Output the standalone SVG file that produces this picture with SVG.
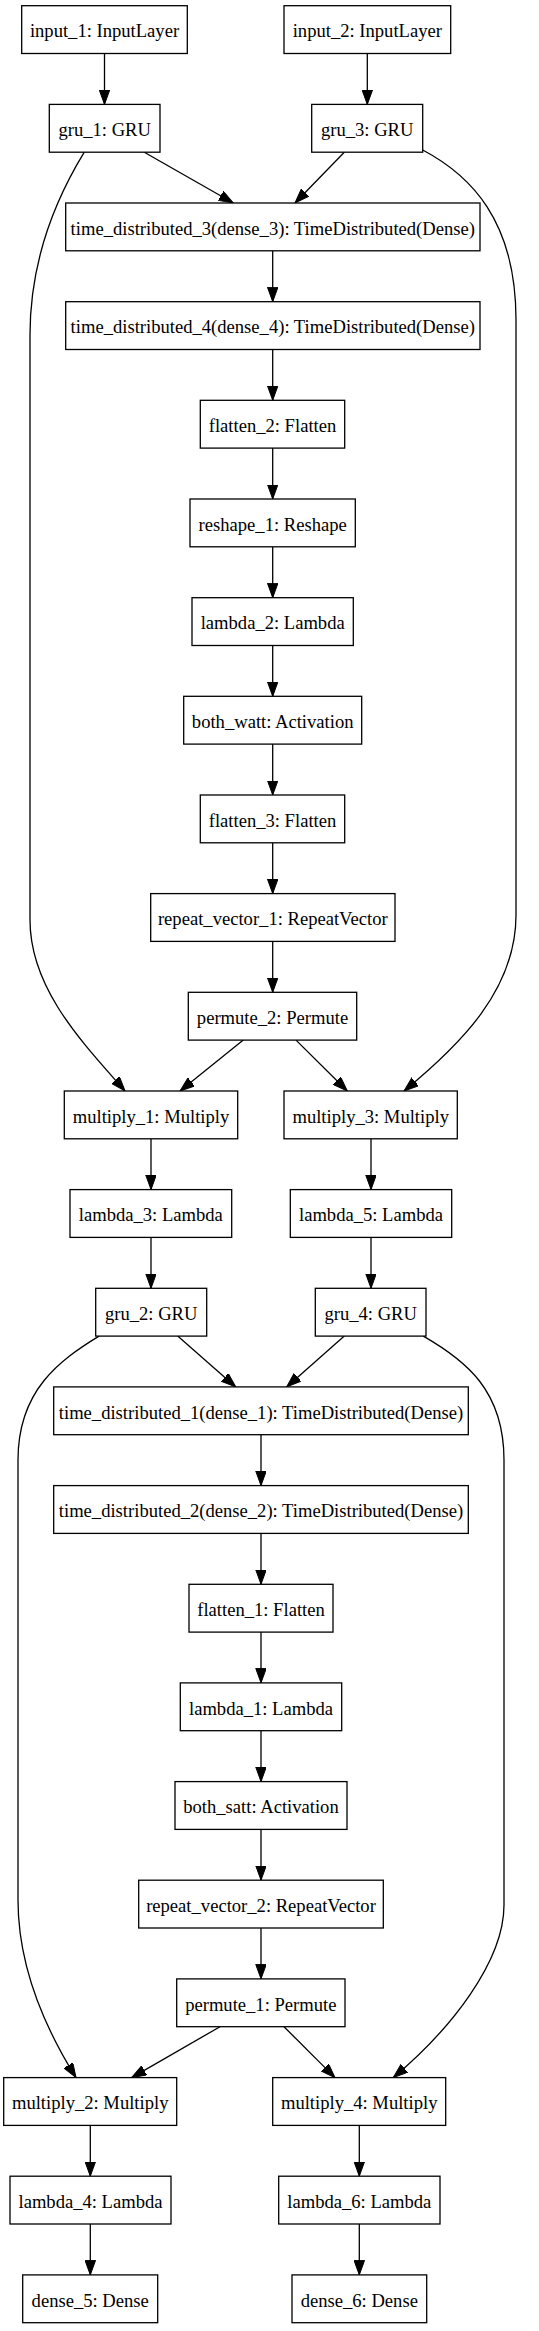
<svg xmlns="http://www.w3.org/2000/svg" width="539" height="2331" viewBox="0 0 539 2331">
<defs>
<style>
.n rect{fill:#fff;stroke:#000;stroke-width:1.3}
.n text{font-family:"Liberation Serif","Times New Roman",serif;font-size:18.6px;text-anchor:middle;fill:#000}
.e path{fill:none;stroke:#000;stroke-width:1.3;marker-end:url(#ah)}
</style>
<marker id="ah" markerUnits="userSpaceOnUse" markerWidth="15" markerHeight="11" refX="14.5" refY="5.25" orient="auto">
<path d="M0,0 L14.5,5.25 L0,10.5 Z" fill="#000" stroke="#000" stroke-width="1"/>
</marker>
</defs>
<rect width="539" height="2331" fill="#fff"/>
<g id="edges" class="e">
<path d="M104.5,53.5 V104.4"/>
<path d="M367.3,53.5 V104.4"/>
<path d="M144.3,152.2 L233.3,203"/>
<path d="M344.3,152.2 L295,203"/>
<path d="M84.3,152.2 C52,205 30,265 30,335 L30,920 C30,990 85,1045 125,1091"/>
<path d="M422.7,150 C470,175 516,220 516,320 L516,915 C516,990 460,1045 404,1091"/>
<path d="M272.7,250.8 V301.7"/>
<path d="M272.7,349.5 V400.3"/>
<path d="M272.7,448.1 V499"/>
<path d="M272.7,546.8 V597.7"/>
<path d="M272.7,645.5 V696.3"/>
<path d="M272.7,744.1 V795"/>
<path d="M272.7,842.8 V893.6"/>
<path d="M272.7,941.4 V992.3"/>
<path d="M243.3,1040.1 L180,1091"/>
<path d="M296,1040.1 L347.3,1091"/>
<path d="M151,1138.8 V1189.6"/>
<path d="M371,1138.8 V1189.6"/>
<path d="M151,1237.4 V1288.3"/>
<path d="M371,1237.4 V1288.3"/>
<path d="M177.7,1336.1 L235.7,1386.9"/>
<path d="M344.3,1336.1 L286.7,1386.9"/>
<path d="M99,1336.1 C60,1360 18,1390 18,1460 L18,1900 C18,1960 40,2020 76,2077.6"/>
<path d="M423.3,1336.1 C465,1360 504,1390 504,1460 L504,1905 C504,1962 450,2030 393.3,2077.6"/>
<path d="M261,1434.7 V1485.6"/>
<path d="M261,1533.4 V1584.3"/>
<path d="M261,1632.1 V1682.9"/>
<path d="M261,1730.7 V1781.6"/>
<path d="M261,1829.4 V1880.2"/>
<path d="M261,1928 V1978.9"/>
<path d="M220,2026.7 L131.7,2077.6"/>
<path d="M284,2026.7 L335,2077.6"/>
<path d="M90.3,2125.4 V2176.2"/>
<path d="M359.3,2125.4 V2176.2"/>
<path d="M90.3,2224 V2274.9"/>
<path d="M359.3,2224 V2274.9"/>
</g>
<g id="input_1" class="n"><rect x="21.7" y="5.7" width="165.6" height="47.8"/><text x="104.5" y="37.4">input_1: InputLayer</text></g>
<g id="input_2" class="n"><rect x="284" y="5.7" width="166.7" height="47.8"/><text x="367.3" y="37.4">input_2: InputLayer</text></g>
<g id="gru_1" class="n"><rect x="49.3" y="104.4" width="110.7" height="47.8"/><text x="104.7" y="136.1">gru_1: GRU</text></g>
<g id="gru_3" class="n"><rect x="311.7" y="104.4" width="111" height="47.8"/><text x="367.2" y="136.1">gru_3: GRU</text></g>
<g id="time_distributed_3" class="n"><rect x="65.7" y="203" width="414.3" height="47.8"/><text x="272.8" y="234.7">time_distributed_3(dense_3): TimeDistributed(Dense)</text></g>
<g id="time_distributed_4" class="n"><rect x="65.7" y="301.7" width="414.3" height="47.8"/><text x="272.8" y="333.4">time_distributed_4(dense_4): TimeDistributed(Dense)</text></g>
<g id="flatten_2" class="n"><rect x="200.3" y="400.3" width="144.4" height="47.8"/><text x="272.5" y="432">flatten_2: Flatten</text></g>
<g id="reshape_1" class="n"><rect x="190" y="499" width="165.3" height="47.8"/><text x="272.7" y="530.7">reshape_1: Reshape</text></g>
<g id="lambda_2" class="n"><rect x="192" y="597.7" width="161.3" height="47.8"/><text x="272.7" y="629.4">lambda_2: Lambda</text></g>
<g id="both_watt" class="n"><rect x="183.7" y="696.3" width="178" height="47.8"/><text x="272.7" y="728">both_watt: Activation</text></g>
<g id="flatten_3" class="n"><rect x="200.3" y="795" width="144.4" height="47.8"/><text x="272.5" y="826.7">flatten_3: Flatten</text></g>
<g id="repeat_vector_1" class="n"><rect x="150.7" y="893.6" width="244.3" height="47.8"/><text x="272.8" y="925.3">repeat_vector_1: RepeatVector</text></g>
<g id="permute_2" class="n"><rect x="188.3" y="992.3" width="168.4" height="47.8"/><text x="272.5" y="1024">permute_2: Permute</text></g>
<g id="multiply_1" class="n"><rect x="64.3" y="1091" width="173.4" height="47.8"/><text x="151" y="1122.7">multiply_1: Multiply</text></g>
<g id="multiply_3" class="n"><rect x="284" y="1091" width="173.3" height="47.8"/><text x="370.7" y="1122.7">multiply_3: Multiply</text></g>
<g id="lambda_3" class="n"><rect x="70" y="1189.6" width="161.7" height="47.8"/><text x="150.8" y="1221.3">lambda_3: Lambda</text></g>
<g id="lambda_5" class="n"><rect x="290.3" y="1189.6" width="161.4" height="47.8"/><text x="371" y="1221.3">lambda_5: Lambda</text></g>
<g id="gru_2" class="n"><rect x="95.7" y="1288.3" width="111" height="47.8"/><text x="151.2" y="1320">gru_2: GRU</text></g>
<g id="gru_4" class="n"><rect x="315.3" y="1288.3" width="110.7" height="47.8"/><text x="370.7" y="1320">gru_4: GRU</text></g>
<g id="time_distributed_1" class="n"><rect x="53.7" y="1386.9" width="414.6" height="47.8"/><text x="261" y="1418.6">time_distributed_1(dense_1): TimeDistributed(Dense)</text></g>
<g id="time_distributed_2" class="n"><rect x="53.7" y="1485.6" width="414.6" height="47.8"/><text x="261" y="1517.3">time_distributed_2(dense_2): TimeDistributed(Dense)</text></g>
<g id="flatten_1" class="n"><rect x="189" y="1584.3" width="144" height="47.8"/><text x="261" y="1616">flatten_1: Flatten</text></g>
<g id="lambda_1" class="n"><rect x="180.3" y="1682.9" width="161.4" height="47.8"/><text x="261" y="1714.6">lambda_1: Lambda</text></g>
<g id="both_satt" class="n"><rect x="175" y="1781.6" width="172" height="47.8"/><text x="261" y="1813.3">both_satt: Activation</text></g>
<g id="repeat_vector_2" class="n"><rect x="138.7" y="1880.2" width="244.6" height="47.8"/><text x="261" y="1911.9">repeat_vector_2: RepeatVector</text></g>
<g id="permute_1" class="n"><rect x="176.7" y="1978.9" width="168.3" height="47.8"/><text x="260.8" y="2010.6">permute_1: Permute</text></g>
<g id="multiply_2" class="n"><rect x="3.7" y="2077.6" width="173" height="47.8"/><text x="90.2" y="2109.3">multiply_2: Multiply</text></g>
<g id="multiply_4" class="n"><rect x="272.7" y="2077.6" width="173" height="47.8"/><text x="359.2" y="2109.3">multiply_4: Multiply</text></g>
<g id="lambda_4" class="n"><rect x="10" y="2176.2" width="161" height="47.8"/><text x="90.5" y="2207.9">lambda_4: Lambda</text></g>
<g id="lambda_6" class="n"><rect x="278.7" y="2176.2" width="161.3" height="47.8"/><text x="359.3" y="2207.9">lambda_6: Lambda</text></g>
<g id="dense_5" class="n"><rect x="22.7" y="2274.9" width="135" height="47.8"/><text x="90.2" y="2306.6">dense_5: Dense</text></g>
<g id="dense_6" class="n"><rect x="292" y="2274.9" width="134.7" height="47.8"/><text x="359.3" y="2306.6">dense_6: Dense</text></g>
</svg>
